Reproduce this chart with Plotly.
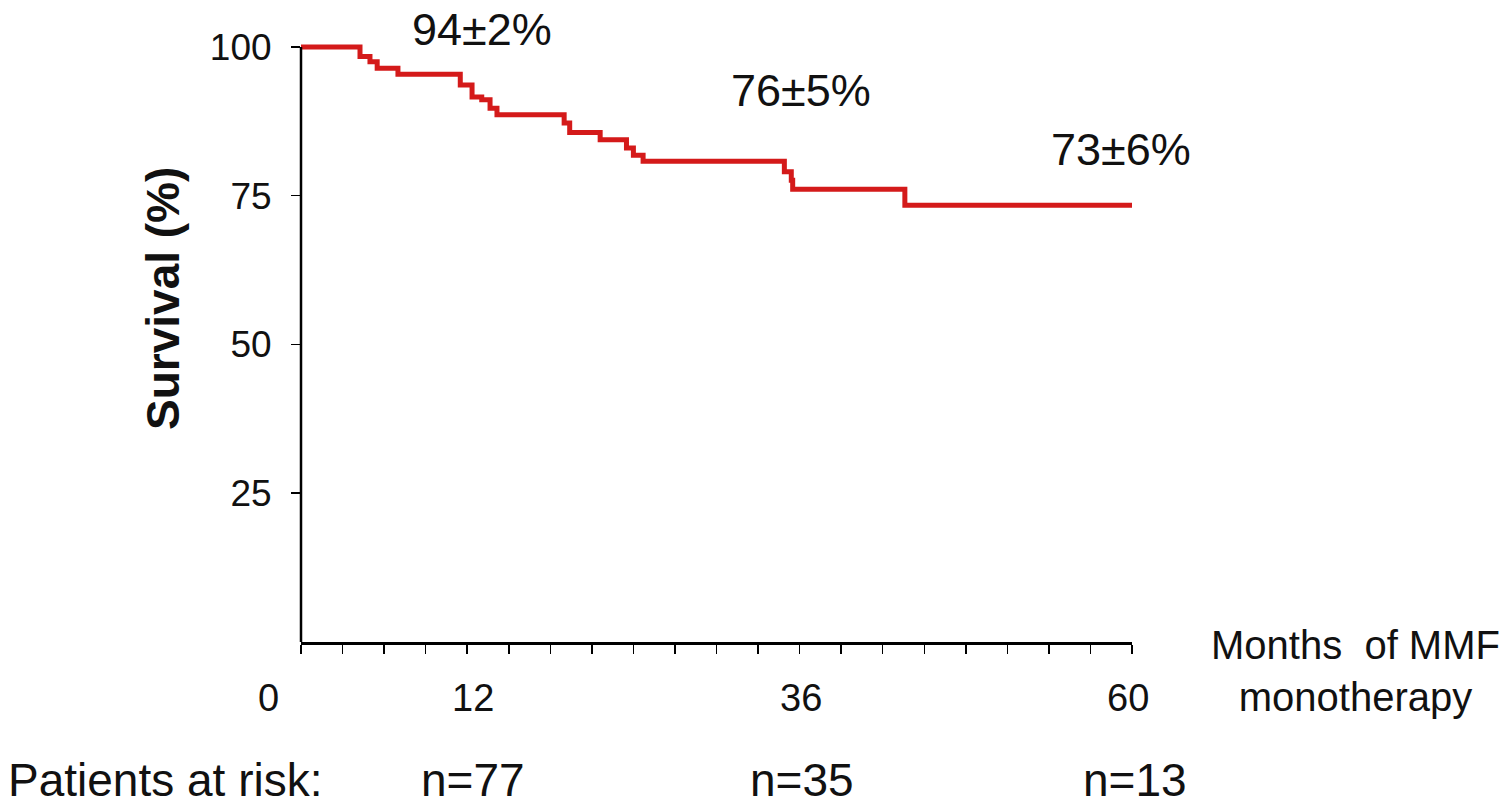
import plotly.graph_objects as go

# ---- data ----
months = [0, 4.26, 4.98, 5.5, 7.0, 11.5, 12.35, 13.05, 13.65, 14.15, 19.0, 19.4,
          21.6, 23.5, 24.0, 24.7, 34.9, 35.4, 35.5, 43.6, 60]
survival = [100, 98.4, 97.5, 96.4, 95.4, 93.6, 91.6, 91.1, 89.7, 88.6, 87.2, 85.6,
            84.4, 83.0, 81.8, 80.8, 79.0, 77.6, 76.1, 73.4, 73.4]

x_tick_vals = list(range(0, 61, 3))
x_label_vals = [0, 12, 36, 60]
y_tick_vals = [25, 50, 75, 100]

estimate_labels = ["94±2%", "76±5%", "73±6%"]
risk_months = [12, 36, 60]
risk_labels = ["n=77", "n=35", "n=13"]

# ---- layout geometry (reference pixels) ----
W, H = 1508, 808
L, T = 301, 35
PLOT_RIGHT, PLOT_BOTTOM = 1132, 642
R, B = W - PLOT_RIGHT, H - PLOT_BOTTOM
PW, PH = PLOT_RIGHT - L, PLOT_BOTTOM - T


def px(x):
    return (x - L) / PW


def py(y):
    return (PLOT_BOTTOM - y) / PH


FONT = "Liberation Sans, Arial, sans-serif"
TXT = "#111111"

fig = go.Figure()
fig.add_trace(go.Scatter(
    x=months, y=survival, mode="lines", line_shape="hv",
    line=dict(color="#D41A1A", width=5), hoverinfo="skip", showlegend=False,
))

fig.update_layout(
    width=W, height=H, margin=dict(l=L, r=R, t=T, b=B),
    paper_bgcolor="white", plot_bgcolor="white",
    font=dict(family=FONT, color=TXT),
    xaxis=dict(range=[0, 60], showgrid=False, zeroline=False,
               showline=True, linecolor="black", linewidth=2.5,
               tickmode="array", tickvals=x_tick_vals, ticks="outside",
               ticklen=9, tickwidth=1.5, tickcolor="black", showticklabels=False),
    yaxis=dict(range=[0, 102], showgrid=False, zeroline=False, showline=False,
               tickmode="array", tickvals=y_tick_vals, ticks="outside",
               ticklen=9, tickwidth=1.5, tickcolor="black",
               tickfont=dict(size=37, family=FONT, color=TXT),
               ticklabelstandoff=12),
)

# y axis line (ends at 100 like the original)
fig.add_shape(type="line", xref="paper", yref="y", x0=0, x1=0, y0=0, y1=100,
              line=dict(color="black", width=2.5))

ann = []


def add(text, x, y, size, xref="paper", xshift=0, xanchor="center", **kw):
    ann.append(dict(text=text, xref=xref, yref="paper", x=x, y=y, xshift=xshift,
                    xanchor=xanchor, yanchor="middle", showarrow=False,
                    font=dict(size=size, family=FONT, color=TXT), **kw))


# y axis title
add("<b>Survival (%)</b>", px(163), py(299), 46, textangle=-90)
# x tick labels
x_label_shift = {0: -33, 12: 6, 36: 1, 60: -4}
for v in x_label_vals:
    add(str(v), v, py(698), 38, xref="x", xshift=x_label_shift[v])
# x axis title
add("Months  of MMF<br>monotherapy", px(1355), py(671), 40)
# survival estimates
est_pos = [(482, 30), (801, 91), (1121, 149)]
for t, (ex, ey) in zip(estimate_labels, est_pos):
    add(t, px(ex), py(ey), 45)
# patients at risk row
add("Patients at risk:", px(6), py(780), 46, xanchor="left")
risk_shift = {12: 6, 36: 2, 60: 3}
for m, t in zip(risk_months, risk_labels):
    add(t, m, py(780), 46, xref="x", xshift=risk_shift[m])

fig.update_layout(annotations=ann)
fig.write_html(
    "out.html",
    config={"displayModeBar": False, "staticPlot": True},
    post_script="document.body.style.margin='0';document.body.style.overflow='hidden';",
)
